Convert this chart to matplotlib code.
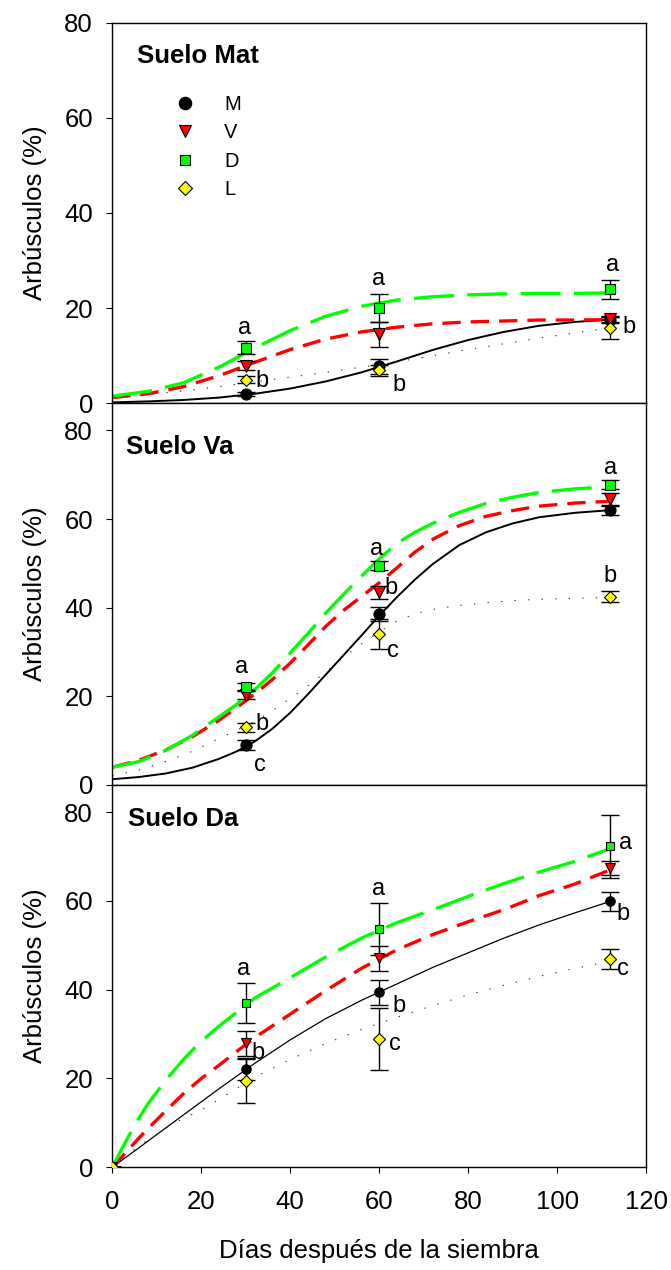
import matplotlib
matplotlib.use('Agg')
import matplotlib.pyplot as plt

plt.rcParams['font.family'] = ['Liberation Sans', 'DejaVu Sans']

# ---- datos ----
series = ['M', 'V', 'D', 'L']
dias = [30, 60, 112]
dias_da = [0, 30, 60, 112]

# curvas ajustadas (x de cada panel)
x_mat = [0, 8, 16, 24, 32, 40, 48, 56, 64, 72, 80, 88, 96, 104, 112]
x_va = [0, 6, 12, 18, 24, 28, 32, 36, 40, 44, 48, 52, 56, 60, 64, 68, 72, 78, 84, 90, 96, 104, 112]
x_da = [0, 2, 4, 6, 8, 12, 16, 20, 24, 32, 40, 48, 56, 64, 72, 80, 88, 96, 104, 112]

# Suelo Mat
mat_medias = {'M': [1.9, 7.8, 17.5], 'V': [7.9, 14.5, 17.7],
              'D': [11.7, 20.0, 24.0], 'L': [5.0, 6.9, 15.9]}
mat_err = {'M': [0.4, 1.6, 0.6], 'V': [1.0, 2.6, 0.7],
           'D': [1.4, 3.0, 2.0], 'L': [0.8, 1.2, 2.3]}
mat_curvas = {
    'M': [0.2, 0.4, 0.7, 1.2, 2.0, 3.1, 4.6, 6.5, 8.8, 11.2, 13.3, 15.0, 16.3, 17.1, 17.6],
    'V': [1.2, 2.0, 3.5, 5.8, 8.6, 11.3, 13.5, 15.0, 16.0, 16.7, 17.1, 17.3, 17.5, 17.5, 17.6],
    'D': [1.5, 2.5, 4.3, 7.6, 11.6, 15.3, 18.3, 20.4, 21.7, 22.4, 22.8, 23.0, 23.1, 23.1, 23.2],
    'L': [1.2, 1.8, 2.6, 3.5, 4.5, 5.5, 6.5, 7.6, 8.7, 10.0, 11.3, 12.5, 13.7, 14.8, 15.9]}
mat_letras = ['a', 'b', 'a', 'b', 'a', 'b']

# Suelo Va
va_medias = {'M': [9.0, 38.5, 62.0], 'V': [20.3, 43.5, 64.5],
             'D': [22.2, 49.5, 67.7], 'L': [13.0, 34.0, 42.5]}
va_err = {'M': [1.2, 1.6, 1.0], 'V': [0.8, 1.5, 1.3],
          'D': [0.8, 1.0, 1.0], 'L': [1.0, 3.4, 1.2]}
va_curvas = {
    'M': [1.3, 1.8, 2.6, 3.9, 5.9, 7.6, 9.8, 12.7, 16.3, 20.5, 24.9, 29.3, 33.7, 38.2,
          42.4, 46.3, 49.8, 54.1, 57.0, 59.0, 60.4, 61.4, 62.0],
    'V': [4.0, 5.6, 7.9, 10.9, 14.6, 17.5, 20.5, 23.8, 27.5, 31.6, 35.8, 39.4, 42.5, 45.6,
          49.0, 52.5, 55.4, 58.5, 60.6, 61.9, 62.9, 63.6, 64.0],
    'D': [4.0, 5.3, 7.8, 11.2, 15.4, 18.2, 21.5, 25.3, 29.8, 34.2, 38.8, 43.0, 47.1, 51.0,
          54.5, 57.0, 59.0, 61.5, 63.5, 64.9, 66.0, 66.8, 67.3],
    'L': [2.1, 3.4, 5.3, 7.6, 10.5, 12.4, 14.3, 16.8, 19.5, 22.4, 25.5, 28.8, 31.8, 34.6,
          37.0, 38.6, 39.6, 40.5, 41.1, 41.6, 41.9, 42.1, 42.3]}
va_letras = ['a', 'b', 'c', 'a', 'b', 'c', 'a', 'b']

# Suelo Da
da_medias = {'M': [0, 22.1, 39.4, 59.9], 'V': [0, 27.9, 47.1, 67.4],
             'D': [0, 37.0, 53.7, 72.3], 'L': [0, 19.5, 28.9, 46.9]}
da_err = {'M': [0, 2.5, 2.8, 2.2], 'V': [0, 2.8, 2.8, 1.6],
          'D': [0, 4.5, 5.9, 7.1], 'L': [0, 5.0, 7.0, 2.2]}
da_curvas = {
    'M': [0, 1.5, 2.95, 4.4, 5.9, 8.85, 11.8, 14.75, 17.7, 23.4, 28.7, 33.5, 37.6, 41.3,
          45.0, 48.3, 51.6, 54.6, 57.3, 59.9],
    'V': [0, 2.2, 4.4, 6.6, 8.7, 12.7, 16.6, 20.0, 23.0, 29.2, 34.5, 39.8, 44.8, 49.0,
          52.4, 55.3, 58.0, 61.2, 63.8, 67.0],
    'D': [0, 3.9, 7.6, 11.1, 14.3, 19.6, 24.3, 28.4, 31.8, 38.1, 42.7, 47.4, 51.6, 55.1,
          58.0, 61.0, 63.9, 66.5, 68.9, 71.8],
    'L': [0, 1.7, 3.3, 4.8, 6.2, 8.9, 11.0, 12.9, 15.3, 20.3, 24.3, 27.9, 31.0, 33.8,
          36.4, 38.8, 41.0, 43.0, 44.8, 46.4]}
da_letras = ['a', 'b', 'a', 'b', 'c', 'a', 'b', 'c']

# posiciones de las letras (x, y en datos)
mat_pos = [(29.7, 15.9), (33.6, 4.7), (59.9, 26.1), (64.4, 3.8), (112.5, 29.1), (116.2, 16.1)]
va_pos = [(29.0, 26.6), (33.7, 13.7), (33.1, 4.6), (59.3, 53.2), (62.6, 44.5), (63.2, 30.2),
          (112.0, 71.4), (111.8, 47.1)]
da_pos = [(29.4, 44.7), (32.7, 25.7), (59.9, 62.7), (64.4, 36.4), (63.6, 27.8),
          (115.3, 73.0), (114.9, 57.0), (114.9, 44.6)]

# ---- estilos ----
verde = '#00ff00'
marcas = {'M': ('o', 'black', 8.0), 'V': ('v', '#ff0000', 8.0),
          'D': ('s', verde, 6.8), 'L': ('D', '#ffff00', 6.6)}
lineas = {'M': dict(color='black', lw=1.4, ls='-'),
          'V': dict(color='#ff0000', lw=2.4, ls=(0, (5.5, 3))),
          'D': dict(color=verde, lw=2.4, ls=(0, (12, 4))),
          'L': dict(color='#333333', lw=0.8, ls=(0, (1.2, 11)))}

fs = 18.5

fig = plt.figure(figsize=(6.71, 12.7), dpi=100)
left, width = 0.1674, 0.7954
ax1 = fig.add_axes([left, 0.68244, width, 0.29969])
ax2 = fig.add_axes([left, 0.38189, width, 0.30055])
ax3 = fig.add_axes([left, 0.08087, width, 0.30102])


def dibujar(ax, x, medias, errores, xc, curvas, letras, pos, titulo, tpos, escala=1.0, lw_m=1.4):
    for s in series:
        st = dict(lineas[s])
        if s == 'M':
            st['lw'] = lw_m
        ax.plot(xc, curvas[s], zorder=2, **st)
    for s in series:
        ax.errorbar(x, medias[s], yerr=errores[s], fmt='none', ecolor='black',
                    elinewidth=1, capsize=6.5, capthick=1, zorder=3)
    for s in series:
        m, c, ms = marcas[s]
        ax.plot(x, medias[s], ls='none', marker=m, ms=ms * escala, mfc=c,
                mec='black', mew=0.8, label=s, zorder=4)
    for l, (px, py) in zip(letras, pos):
        ax.text(px, py, l, fontsize=17, ha='center', va='center', zorder=5)
    ax.text(tpos[0], tpos[1], titulo, fontsize=fs, fontweight='bold', va='baseline')
    ax.set_xlim(0, 120)
    ax.set_yticks([0, 20, 40, 60, 80])
    ax.set_ylabel('Arbúsculos (%)', fontsize=fs, labelpad=12)
    ax.tick_params(axis='y', direction='out', length=4, pad=10, labelsize=fs)
    for sp in ax.spines.values():
        sp.set_linewidth(1)


dibujar(ax1, dias, mat_medias, mat_err, x_mat, mat_curvas, mat_letras, mat_pos,
        'Suelo Mat', (5.6, 71.5))
ax1.set_ylim(0, 80)
ax1.legend(loc='upper left', bbox_to_anchor=(0.1175, 0.8105), frameon=False, numpoints=1,
           fontsize=14.5, markerscale=1.12, handlelength=1.0, handletextpad=1.45,
           labelspacing=0.47, borderpad=0, borderaxespad=0)

dibujar(ax2, dias, va_medias, va_err, x_va, va_curvas, va_letras, va_pos,
        'Suelo Va', (3.0, 74.6))
ax2.set_ylim(0, 86.1)

dibujar(ax3, dias_da, da_medias, da_err, x_da, da_curvas, da_letras, da_pos,
        'Suelo Da', (3.6, 76.9), escala=0.85, lw_m=0.9)
ax3.set_ylim(0, 86.1)

for ax in (ax1, ax2):
    ax.tick_params(axis='x', bottom=False, labelbottom=False)
ax3.set_xticks([0, 20, 40, 60, 80, 100, 120])
ax3.tick_params(axis='x', direction='out', length=4, pad=12, labelsize=fs)
ax3.set_xlabel('Días después de la siembra', fontsize=fs, labelpad=18)

fig.savefig('out.png', dpi=100)
